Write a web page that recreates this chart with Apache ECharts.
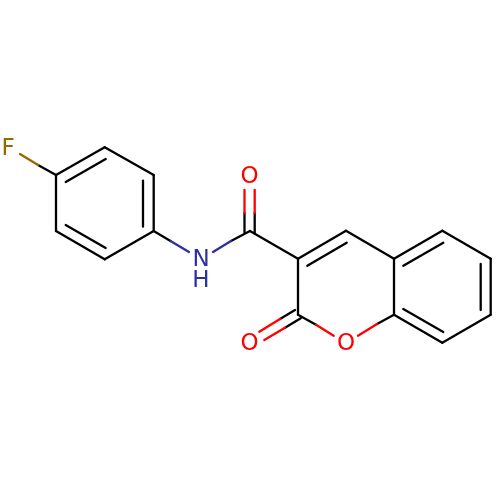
<!DOCTYPE html>
<html>
<head>
<meta charset="utf-8">
<style>html,body{margin:0;padding:0;background:#fff}#c{width:500px;height:500px}</style>
<script src="https://cdn.jsdelivr.net/npm/echarts@6/dist/echarts.min.js"></script>
</head>
<body>
<div id="c"></div>
<script>
// Bond segments, [x1, y1, x2, y2] in picture units, grouped by colour
var blackBonds = [
  [38,165,56,175],[56,175,104.7,147.3],[104.7,147.3,153.7,175],[153.7,175,153.7,231],
  [153.7,231,104.7,259.3],[104.7,259.3,56,231],[56,231,56,175],
  [65.7,182,105.7,159],[143,180.7,143,226.7],[65.7,225,105.7,248],
  [153.7,231,170.5,241],[231,241,250,231],
  [250,231,298,258.7],[298,258.7,346,230.7],[307.3,265.7,346.7,242.7],
  [346,230.7,394,258.7],[394,258.7,442.3,230.7],[403.3,265.7,443.3,242.7],
  [442.3,230.7,490.7,258.7],[490.7,258.7,490.7,314.7],[480.7,264,480.7,310],
  [490.7,314.7,442.3,342.7],[442.3,342.7,394,314.7],[443.3,332,403.3,309],
  [394,314.7,394,258.7],[298,258.7,298,314.7],
  [394,314.7,377,324],[298,314.7,316,324.7],
  [244.5,233,244.5,213],[254.7,233,254.7,213],
  [295,310,280,319],[300.7,318.3,285,327.7]
];
var redBonds = [
  [244.5,213,244.5,190],[254.7,213,254.7,190],
  [280,319,259.3,331.7],[285,327.7,264.3,340],
  [377,324,358,335.7],[316,324.7,333.7,335.7]
];
var blueBonds = [[170.5,241,189,252],[213,252,231,241]];
var goldBonds = [[20,154,38,165]];
// Atom labels: [x, y, text]
var oxygenAtoms = [[249.5,177,"O"],[249.5,344,"O"],[346,344,"O"]];
var nitrogenAtoms = [[201,260,"N"],[201,281,"H"]];
var fluorineAtoms = [[8,149,"F"]];

function bondSeries(list, color) {
  return list.map(function (b) {
    return {
      type: "line", showSymbol: false, symbol: "none", silent: true, clip: false,
      lineStyle: { color: color, width: 2.3, cap: "round", opacity: 1 },
      data: [[b[0], b[1]], [b[2], b[3]]]
    };
  });
}
function atomSeries(list, color) {
  return {
    type: "scatter", symbolSize: 0, silent: true, clip: false,
    itemStyle: { opacity: 1 },
    data: list.map(function (a) { return { value: [a[0], a[1]], name: a[2] }; }),
    label: {
      show: true, position: "inside", formatter: "{b}", color: color, opacity: 1,
      fontFamily: "DejaVu Sans", fontSize: 23, align: "center", verticalAlign: "middle"
    }
  };
}
var chart = echarts.init(document.getElementById("c"), null, { renderer: "canvas" });
chart.setOption({
  animation: false,
  backgroundColor: "#ffffff",
  grid: { left: 0, right: 0, top: 0, bottom: 0 },
  xAxis: { type: "value", min: 0, max: 500, show: false },
  yAxis: { type: "value", min: 0, max: 500, inverse: true, show: false },
  series: [].concat(
    bondSeries(blackBonds, "#000000"),
    bondSeries(redBonds, "#ff0000"),
    bondSeries(blueBonds, "#2f2f9f"),
    bondSeries(goldBonds, "#996600"),
    [atomSeries(oxygenAtoms, "#ff0000"), atomSeries(nitrogenAtoms, "#2f2f9f"), atomSeries(fluorineAtoms, "#996600")]
  )
});
</script>
</body>
</html>
